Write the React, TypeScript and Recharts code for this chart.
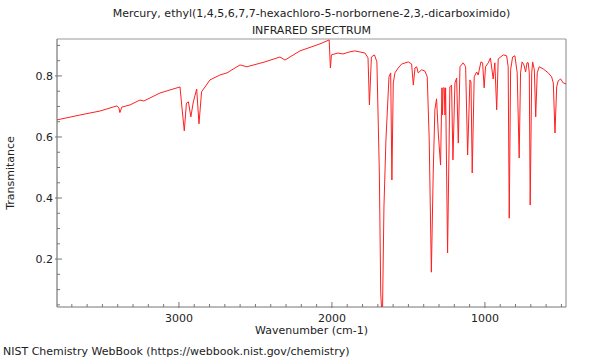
import { LineChart, Line, XAxis, YAxis, ReferenceLine } from "recharts";

// wavenumber (cm-1) and transmittance, left to right
const wavenumbers = [
  3797, 3647, 3516, 3405, 3392, 3386, 3373, 3320, 3255, 3229, 3124, 2993,
  2980, 2965, 2951, 2938, 2922, 2906, 2884, 2869, 2852, 2797, 2732, 2686,
  2601, 2556, 2438, 2340, 2307, 2209, 2078, 2018, 2010, 2003, 1961, 1928,
  1882, 1850, 1784, 1764, 1755, 1742, 1722, 1706, 1690, 1681, 1676, 1669,
  1660, 1647, 1627, 1616, 1608, 1599, 1588, 1567, 1544, 1501, 1479, 1468,
  1457, 1446, 1436, 1414, 1392, 1377, 1364, 1350, 1338, 1327, 1316, 1305,
  1290, 1281, 1277, 1273, 1266, 1261, 1257, 1244, 1229, 1218, 1209, 1196,
  1185, 1174, 1163, 1142, 1126, 1113, 1098, 1091, 1083, 1070, 1054, 1044,
  1026, 1015, 1005, 996, 978, 964, 946, 935, 923, 913, 880, 858,
  848, 841, 832, 819, 804, 789, 776, 767, 757, 745, 734, 725,
  717, 710, 704, 694, 688, 677, 668, 658, 645, 619, 586, 564,
  553, 542, 531, 521, 505, 488, 470,
];
const transmittance = [
  0.656, 0.672, 0.685, 0.702, 0.695, 0.68, 0.698, 0.705, 0.721, 0.718, 0.744, 0.764,
  0.695, 0.62, 0.711, 0.715, 0.666, 0.715, 0.757, 0.643, 0.748, 0.787, 0.803, 0.81,
  0.836, 0.83, 0.846, 0.862, 0.852, 0.882, 0.905, 0.918, 0.826, 0.869, 0.875, 0.872,
  0.879, 0.882, 0.875, 0.859, 0.705, 0.862, 0.869, 0.846, 0.482, 0.089, 0.043, 0.043,
  0.37, 0.59, 0.797, 0.81, 0.459, 0.777, 0.81, 0.826, 0.839, 0.846, 0.839, 0.77,
  0.826, 0.83, 0.81, 0.82, 0.816, 0.797, 0.59, 0.157, 0.482, 0.689, 0.725, 0.613,
  0.508, 0.761, 0.672, 0.761, 0.761, 0.672, 0.761, 0.22, 0.764, 0.77, 0.525, 0.777,
  0.793, 0.58, 0.83, 0.843, 0.83, 0.541, 0.787, 0.78, 0.482, 0.797, 0.813, 0.803,
  0.846, 0.843, 0.761, 0.83, 0.843, 0.859, 0.79, 0.843, 0.689, 0.856, 0.869, 0.866,
  0.83, 0.334, 0.82, 0.862, 0.866, 0.81, 0.531, 0.81, 0.846, 0.836, 0.813, 0.843,
  0.843, 0.81, 0.377, 0.81, 0.846, 0.82, 0.666, 0.81, 0.83, 0.823, 0.81, 0.797,
  0.777, 0.613, 0.764, 0.784, 0.79, 0.777, 0.774,
];

const xTicks = [3700, 3600, 3500, 3400, 3300, 3200, 3100, 3000, 2900, 2800, 2700, 2600, 2500, 2400, 2300, 2200, 2100, 2000, 1900, 1800, 1700, 1600, 1500, 1400, 1300, 1200, 1100, 1000, 900, 800, 700, 600, 500];
const xLabels = [3000, 2000, 1000];
const yTicks = [0.05, 0.1, 0.15, 0.2, 0.25, 0.3, 0.35, 0.4, 0.45, 0.5, 0.55, 0.6, 0.65, 0.7, 0.75, 0.8, 0.85, 0.9];
const yLabels = [0.2, 0.4, 0.6, 0.8];

const X_MIN = 470;
const X_MAX = 3797;
const Y_MIN = 0.043;
const Y_MAX = 0.921;

const data = wavenumbers.map((w, i) => ({ w, t: transmittance[i] }));

const FONT = "'DejaVu Sans', sans-serif";
const AXIS = "#777";

function XTick(props: any) {
  const { x, y, payload } = props;
  const major = xLabels.includes(payload.value);
  return (
    <g>
      <line x1={x} x2={x} y1={y + (major ? 1 : 0)} y2={y - (major ? 5 : 3)} stroke={AXIS} />
      {major && (
        <text x={x} y={y + 15} textAnchor="middle" fontSize={11} fontFamily={FONT} fill="#222">
          {payload.value}
        </text>
      )}
    </g>
  );
}

function YTick(props: any) {
  const { x, y, payload } = props;
  const v = Math.round(payload.value * 100) / 100;
  const major = yLabels.includes(v);
  return (
    <g>
      <line x1={x - (major ? 2 : 0)} x2={x + (major ? 5 : 3)} y1={y} y2={y} stroke={AXIS} />
      {major && (
        <text x={x - 4} y={y + 4} textAnchor="end" fontSize={11} fontFamily={FONT} fill="#222">
          {v.toFixed(1)}
        </text>
      )}
    </g>
  );
}

export default function App() {
  return (
    <div style={{ position: "absolute", left: 0, top: 0, width: 600, height: 360, fontFamily: FONT, color: "#222" }}>
      <div style={{ position: "absolute", top: 5, left: 57, width: 509, textAlign: "center", fontSize: 11, lineHeight: "17px" }}>
        <div>Mercury, ethyl(1,4,5,6,7,7-hexachloro-5-norbornene-2,3,-dicarboximido)</div>
        <div>INFRARED SPECTRUM</div>
      </div>
      <LineChart width={600} height={360} data={data} margin={{ top: 39, right: 34, bottom: 23, left: 17 }}>
        <XAxis
          dataKey="w"
          type="number"
          reversed
          domain={[X_MIN, X_MAX]}
          allowDataOverflow
          ticks={xTicks}
          interval={0}
          tick={<XTick />}
          tickLine={false}
          tickSize={0}
          tickMargin={0}
          height={30}
          axisLine={{ stroke: AXIS, strokeWidth: 1.2 }}
        />
        <YAxis
          type="number"
          domain={[Y_MIN, Y_MAX]}
          allowDataOverflow
          ticks={yTicks}
          interval={0}
          tick={<YTick />}
          tickLine={false}
          tickSize={0}
          tickMargin={0}
          width={40}
          axisLine={{ stroke: AXIS, strokeWidth: 1.2 }}
        />
        <ReferenceLine y={Y_MAX} stroke="#999" strokeWidth={1.2} />
        <ReferenceLine x={X_MIN} stroke="#999" strokeWidth={1.2} />
        <Line
          dataKey="t"
          type="linear"
          stroke="#ff2020"
          strokeWidth={1}
          dot={false}
          isAnimationActive={false}
        />
      </LineChart>
      <div
        style={{
          position: "absolute",
          left: 10,
          top: 173,
          fontSize: 11,
          transform: "translate(-50%, -50%) rotate(-90deg)",
          whiteSpace: "nowrap",
        }}
      >
        Transmitance
      </div>
      <div style={{ position: "absolute", top: 324, left: 57, width: 509, textAlign: "center", fontSize: 11 }}>
        Wavenumber (cm-1)
      </div>
      <div style={{ position: "absolute", top: 345, left: 3, fontSize: 11 }}>
        NIST Chemistry WebBook (https://webbook.nist.gov/chemistry)
      </div>
    </div>
  );
}
